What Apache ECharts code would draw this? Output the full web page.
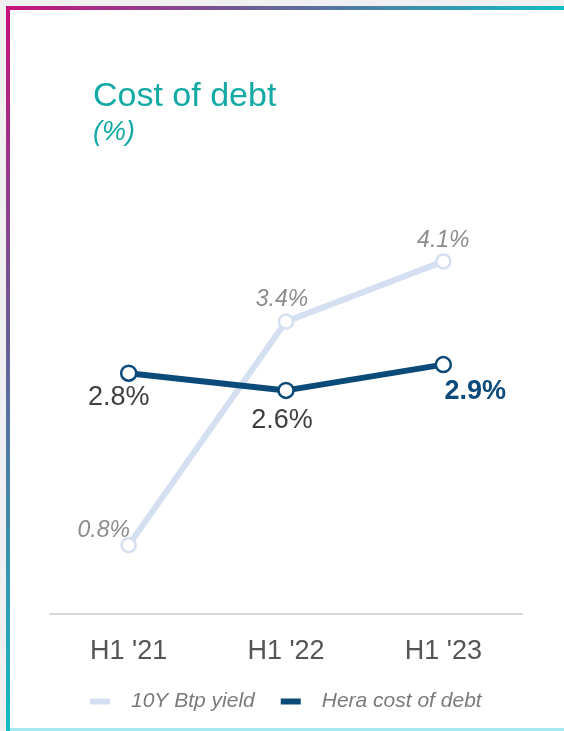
<!DOCTYPE html>
<html>
<head>
<meta charset="utf-8">
<script src="https://cdn.jsdelivr.net/npm/echarts@6/dist/echarts.min.js"></script>
<style>
  html, body { margin: 0; padding: 0; width: 564px; height: 731px; background: #f0f0f0; overflow: hidden; }
  #panel { position: absolute; left: 6px; top: 6px; width: 558px; height: 725px; background: #ffffff; }
  #borderTop { position: absolute; left: 6px; top: 6px; width: 558px; height: 4px;
    background: linear-gradient(to right, #c8117a 0%, #6a5e96 45%, #13bdbf 100%); }
  #borderLeft { position: absolute; left: 6px; top: 6px; width: 4px; height: 725px;
    background: linear-gradient(to bottom, #c8117a 0%, #6a5e96 45%, #13bdbf 100%); }
  #borderBottom { position: absolute; left: 10px; top: 728px; width: 554px; height: 3px; background: #a6e9f0; }
  #chart { position: absolute; left: 0; top: 0; width: 564px; height: 731px; }
</style>
</head>
<body>
<div id="panel"></div>
<div id="borderTop"></div>
<div id="borderLeft"></div>
<div id="borderBottom"></div>
<div id="chart"></div>
<script>
// Half-year periods and the two rate series (%)
const categories = ["H1 '21", "H1 '22", "H1 '23"];
const btpYield = [0.8, 3.4, 4.1];
const heraCostOfDebt = [2.8, 2.6, 2.9];
const seriesNames = ['10Y Btp yield', 'Hera cost of debt'];

const BTP_COLOR = '#d5dff2';
const HERA_COLOR = '#0c4a7a';
const FONT = '"Liberation Sans", Arial, sans-serif';

// Per-point label placement for the light series
const btpOffsets = [[-25, -15], [-4, -22], [0, -21]];
// Per-point label placement for the dark series
const heraOffsets = [[-10, 24], [-4, 30], [32, 27]];

const chart = echarts.init(document.getElementById('chart'), null, { renderer: 'canvas' });

chart.setOption({
  backgroundColor: 'transparent',
  animation: false,
  title: {
    text: 'Cost of debt',
    subtext: '(%)',
    left: 88,
    top: 75,
    itemGap: 5,
    textStyle: { fontFamily: FONT, fontSize: 34, fontWeight: 'normal', color: '#13a9a4' },
    subtextStyle: { fontFamily: FONT, fontSize: 27, fontStyle: 'italic', color: '#13a9a4' }
  },
  legend: {
    data: [
      { name: seriesNames[0], itemStyle: { color: BTP_COLOR, borderWidth: 0 } },
      { name: seriesNames[1], itemStyle: { color: HERA_COLOR, borderWidth: 0 } }
    ],
    left: 85,
    top: 686,
    icon: 'rect',
    itemWidth: 20,
    itemHeight: 6,
    itemGap: 26,
    textStyle: { fontFamily: FONT, fontSize: 21, fontStyle: 'italic', color: '#7a7a7a', padding: [0, 0, 0, 16] }
  },
  grid: { left: 50, right: 42, top: 184, bottom: 117 },
  xAxis: {
    type: 'category',
    data: categories,
    boundaryGap: true,
    axisLine: { lineStyle: { color: '#d9d9d9', width: 2 } },
    axisTick: { show: false },
    axisLabel: { fontFamily: FONT, fontSize: 27, color: '#555555', margin: 24 }
  },
  yAxis: {
    type: 'value',
    min: 0,
    max: 5,
    show: false,
    splitLine: { show: false }
  },
  series: [
    {
      name: seriesNames[0],
      type: 'line',
      data: btpYield.map((v, i) => ({
        value: v,
        label: { offset: btpOffsets[i] }
      })),
      z: 2,
      symbol: 'circle',
      symbolSize: 14,
      lineStyle: { color: BTP_COLOR, width: 6 },
      itemStyle: { color: '#ffffff', borderColor: BTP_COLOR, borderWidth: 2.5 },
      label: {
        show: true,
        position: 'inside',
        formatter: p => p.value.toFixed(1) + '%',
        fontFamily: FONT,
        fontSize: 23,
        fontStyle: 'italic',
        color: '#8c8c8c'
      }
    },
    {
      name: seriesNames[1],
      type: 'line',
      data: heraCostOfDebt.map((v, i) => ({
        value: v,
        label: i === heraCostOfDebt.length - 1
          ? { offset: heraOffsets[i], color: HERA_COLOR, fontWeight: 'bold' }
          : { offset: heraOffsets[i] }
      })),
      z: 3,
      symbol: 'circle',
      symbolSize: 15,
      lineStyle: { color: HERA_COLOR, width: 6 },
      itemStyle: { color: '#ffffff', borderColor: HERA_COLOR, borderWidth: 2.5 },
      label: {
        show: true,
        position: 'inside',
        formatter: p => p.value.toFixed(1) + '%',
        fontFamily: FONT,
        fontSize: 27,
        color: '#404040'
      }
    }
  ]
});
</script>
</body>
</html>
